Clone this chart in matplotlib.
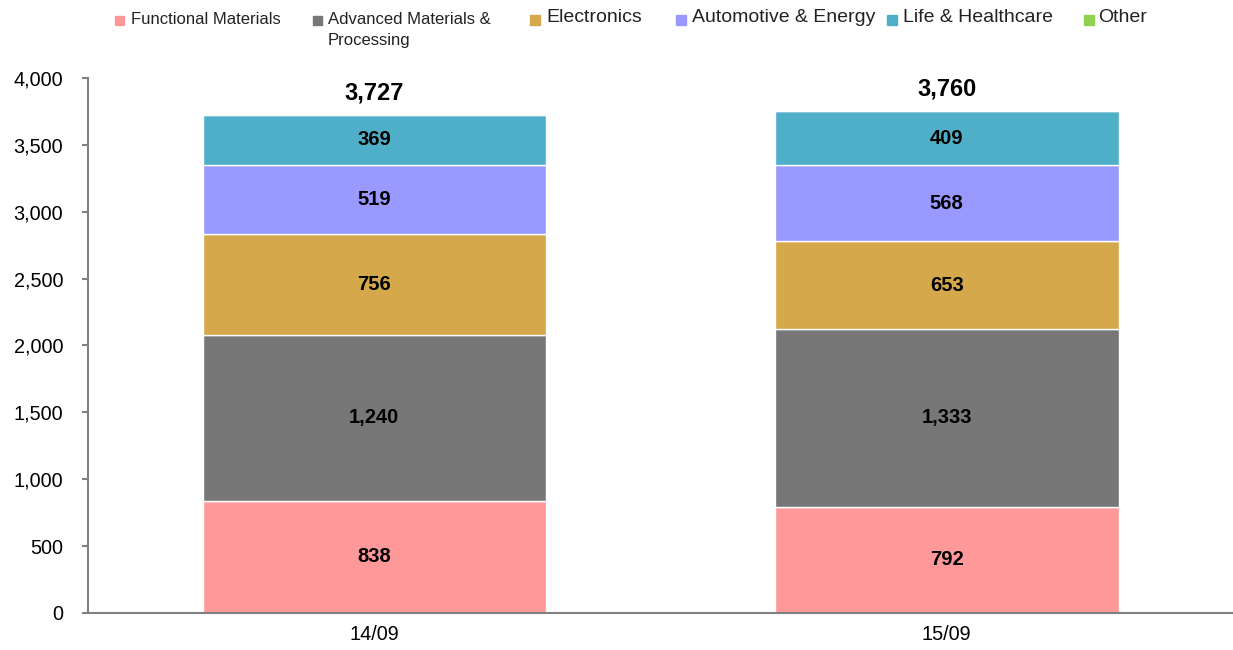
import matplotlib.pyplot as plt
from matplotlib.patches import Rectangle
import numpy as np

plt.rcParams['font.family'] = ['Liberation Sans', 'DejaVu Sans']

periodos = ['14/09', '15/09']
segmentos = ['Functional Materials', 'Advanced Materials &\nProcessing', 'Electronics',
             'Automotive & Energy', 'Life & Healthcare', 'Other']
functional = [838, 792]
advanced = [1240, 1333]
electronics = [756, 653]
automotive = [519, 568]
life = [369, 409]
other = [5, 5]
totales = [3727, 3760]

colores = ['#FF9999', '#777777', '#D4A84B', '#9999FF', '#4FAFC8', '#92D050']
valores = [functional, advanced, electronics, automotive, life, other]

fig = plt.figure(figsize=(12.33, 6.5), dpi=100)
ax = fig.add_axes([0.0714, 0.057, 0.9286, 0.823])

x = np.arange(len(periodos))
base = np.zeros(len(periodos))
for i, serie in enumerate(valores):
    ax.bar(x, serie, 0.6, bottom=base, color=colores[i], edgecolor='white', linewidth=1)
    if i < 5:
        for j in range(len(periodos)):
            ax.text(x[j], base[j] + serie[j] / 2, f'{serie[j]:,}', ha='center', va='center',
                    fontsize=14.5, fontweight='bold')
    base = base + np.array(serie)

for j in range(len(periodos)):
    ax.text(x[j], totales[j] + 75, f'{totales[j]:,}', ha='center', va='bottom',
            fontsize=17, fontweight='bold')

ax.set_xlim(-0.5, 1.5)
ax.set_ylim(0, 4000)
ax.set_yticks(range(0, 4001, 500))
ax.set_yticklabels([f'{v:,}' for v in range(0, 4001, 500)])
ax.set_xticks(x)
ax.set_xticklabels(periodos)
ax.tick_params(axis='both', labelsize=14.3, colors='#808080', labelcolor='black', length=0, pad=9)
ax.tick_params(axis='y', length=4.3, width=1.5, direction='out', pad=13.5)
for lado in ['top', 'right']:
    ax.spines[lado].set_visible(False)
for lado in ['left', 'bottom']:
    ax.spines[lado].set_color('#808080')
    ax.spines[lado].set_linewidth(1.5)

# leyenda manual
cuadros_x = [115, 313, 530, 676, 887, 1084]
textos_x = [131, 328, 546, 692, 903, 1098]
tamanos = [12, 12, 14, 14, 14, 14]
W, H = 1233, 650
for i in range(6):
    lado = 9 if i < 2 else 10
    fig.patches.append(Rectangle((cuadros_x[i] / W, 1 - (20 + lado / 2) / H), lado / W, lado / H,
                                 transform=fig.transFigure, color=colores[i]))
    for k, linea in enumerate(segmentos[i].split('\n')):
        fig.text(textos_x[i] / W, 1 - (20 + 20 * k if i < 2 else 18) / H, linea,
                 fontsize=tamanos[i], color='#222222', ha='left', va='center')

fig.savefig('out.png', dpi=100)
